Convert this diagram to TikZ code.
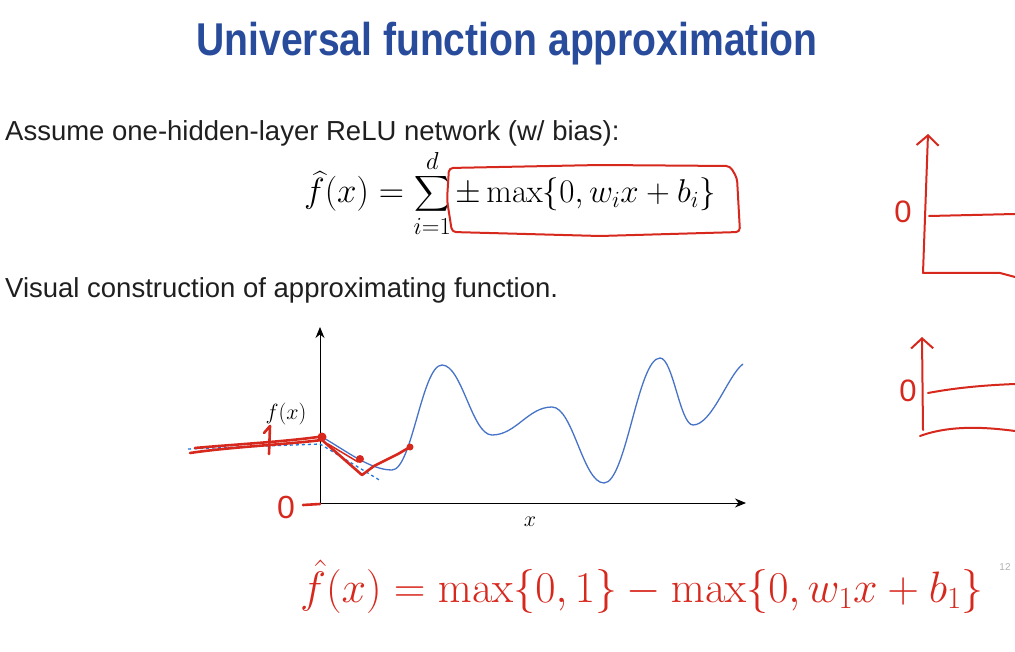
\RequirePackage{fix-cm}
\documentclass[tikz,border=0pt]{standalone}
\usepackage[no-math]{fontspec}
\setmainfont{Liberation Sans}
\usepackage{amsmath}
\usetikzlibrary{arrows.meta,positioning}
\definecolor{slideblue}{RGB}{40,75,155}
\definecolor{inkred}{RGB}{215,40,30}
\definecolor{curveblue}{RGB}{70,115,200}
\definecolor{dashblue}{RGB}{30,120,225}

\begin{document}
\begin{tikzpicture}[x=1pt, y=-1pt,
  >=Latex,
  title/.style={font=\fontsize{46}{54}\selectfont\bfseries, text=slideblue, inner sep=0pt},
  body/.style={font=\fontsize{27.5}{33}\selectfont, text=black!88, anchor=west, inner sep=0pt},
  formula/.style={font=\fontsize{33}{40}\selectfont, inner sep=0pt},
  axis/.style={->, line width=1pt, >={Stealth[length=11pt,width=9pt]}},
  curve/.style={curveblue, line width=1.3pt},
  guide/.style={dashblue, dashed, line width=1.3pt},
  ink/.style={inkred, line width=2.6pt, line cap=round, line join=round},
  inkarr/.style={ink, line width=2pt, -{Straight Barb[length=10pt,width=22pt]}},
  inktext/.style={text=inkred, inner sep=0pt}
]
\useasboundingbox[fill=white] (0,0) rectangle (1015,652);

\node[title] (title) at (507,44) {\scalebox{0.85}[1]{Universal function approximation}};
\node[body] (assume) at (5,133) {Assume one-hidden-layer ReLU network (w/ bias):};
\node[formula, anchor=base west] (term) at (455,203) {$\pm\max\{0,w_ix+b_i\}$};
\node[formula, font=\fontsize{35}{42}\selectfont, anchor=base east] (fhat) at ([xshift=-4pt]term.base west)
  {$\widehat{f}(x)=\displaystyle\sum_{i=1}^{d}$};
\node[body] (visual) at (5,290) {Visual construction of approximating function.};

\draw[ink, line width=2pt, rounded corners=4pt]
  (449,168) -- (600,165) -- (730,166) -- (737,178) -- (740,232)
  -- (600,236) -- (452,232) -- (447,200) -- cycle;

\coordinate (origin) at (320,503);
\coordinate (ytip) at (320,327);
\coordinate (xtip) at (746,503);
\draw[axis] (origin) -- (ytip);
\draw[axis] (origin) -- (xtip);
\node[font=\fontsize{22}{26}\selectfont] (xlabel) at (530,522) {$x$};
\node[font=\fontsize{22}{26}\selectfont] (flabel) at (286,414) {$f(x)$};

\draw[curve] (322,437)
  .. controls (345,450) and (370,470) .. (392,470)
  .. controls (412,470) and (422,365) .. (442,365)
  .. controls (462,365) and (472,435) .. (492,435)
  .. controls (516,435) and (528,407) .. (552,407)
  .. controls (573,407) and (583,483) .. (604,483)
  .. controls (626,483) and (638,358) .. (660,358)
  .. controls (673,358) and (680,425) .. (693,425)
  .. controls (712,425) and (728,375) .. (743,364);

\draw[guide] (188,449) -- (320,444) -- (381,481);

\draw[ink] (190,453) .. controls (230,447) and (280,445) .. (322,440);
\draw[ink] (195,448) .. controls (240,444) and (280,442) .. (318,437);
\draw[ink] (264,433) -- (270,426) -- (269,454);
\fill[inkred] (322,437) circle (4.5);
\draw[ink] (322,440) -- (362,475) -- (374,466) -- (398,454) -- (410,447);
\draw[ink, line width=1.5pt] (328,444) -- (358,462);
\fill[inkred] (360,459) circle (4);
\fill[inkred] (410,447) circle (3.5);
\node[inktext, font=\fontsize{32}{36}\selectfont] (zero) at (286,507) {0};
\draw[ink] (303,505) -- (320,504);

\coordinate (top bottom) at (923,273);
\coordinate (top tip) at (928,134);
\draw[inkarr] (top bottom) -- (top tip);
\draw[ink, line width=2pt] (929,216) -- (1015,214);
\draw[ink, line width=2pt] (top bottom) -- (1000,273) -- (1015,277);
\node[inktext, font=\fontsize{31}{36}\selectfont] (zero top) at (903,212) {0};

\coordinate (low bottom) at (923,430);
\coordinate (low tip) at (922,337);
\draw[inkarr] (low bottom) -- (low tip);
\draw[ink, line width=2pt] (928,393) .. controls (960,387) and (990,385) .. (1015,384);
\draw[ink, line width=2pt] (920,436) .. controls (950,425) and (985,427) .. (1015,431);
\node[inktext, font=\fontsize{31}{36}\selectfont] (zero low) at (908,391) {0};

\node[inktext, font=\fontsize{44}{50}\selectfont, anchor=base west] (approx) at (300,602)
  {$\hat{f}(x)=\max\{0,1\}-\max\{0,w_1x+b_1\}$};
\node[text=black!30, font=\fontsize{10}{12}\selectfont] (page) at (1005,567) {12};
\end{tikzpicture}
\end{document}
